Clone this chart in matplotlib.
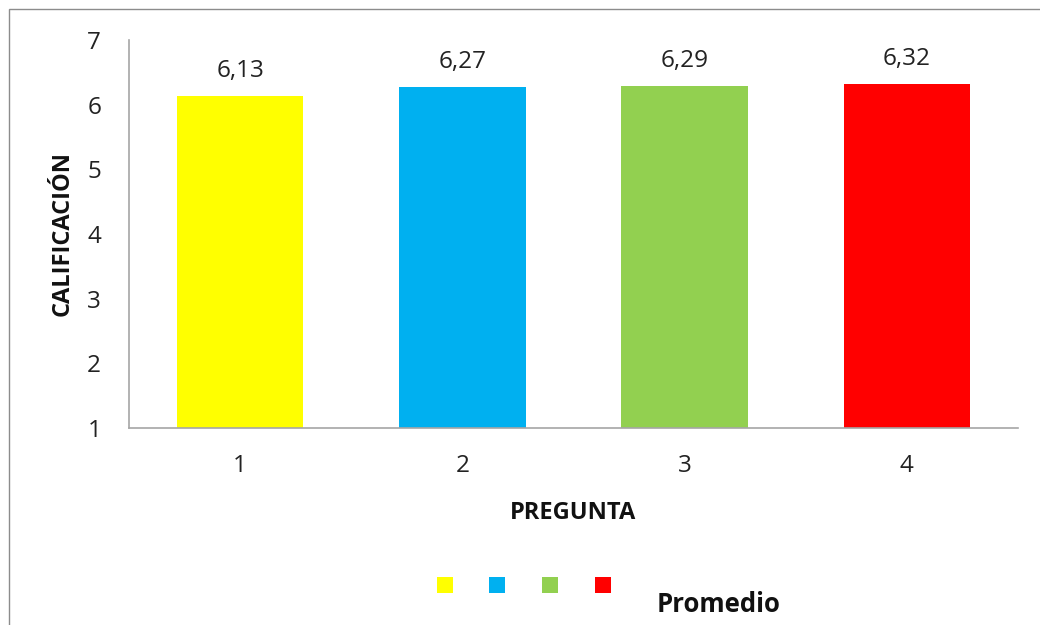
import matplotlib
matplotlib.use("Agg")
import matplotlib.pyplot as plt
from matplotlib.patches import Rectangle

categories = ["1", "2", "3", "4"]
promedio = [6.13, 6.27, 6.29, 6.32]
colors = ["#FFFF00", "#00B0F0", "#92D050", "#FF0000"]
y_ticks = [1, 2, 3, 4, 5, 6, 7]

plt.rcParams["font.family"] = ["Open Sans", "DejaVu Sans"]

fig = plt.figure(figsize=(10.4, 6.25), dpi=100)
fig.patch.set_facecolor("white")

# chart area frame
fig.patches.append(Rectangle((9 / 1040, -0.1), 1.2, 1 - 9 / 625 + 0.1,
                             transform=fig.transFigure, fill=False,
                             edgecolor="#8c8c8c", linewidth=1.0))

ax = fig.add_axes([129 / 1040, 1 - 428 / 625, (1018 - 129) / 1040, (428 - 40) / 625])
x = range(len(categories))
bars = ax.bar(x, [v - 1 for v in promedio], bottom=1, width=0.57, color=colors)
for b, v in zip(bars, promedio):
    ax.text(b.get_x() + b.get_width() / 2, v + 0.2, f"{v:.2f}".replace(".", ","),
            ha="center", va="bottom", fontsize=17.5, color="#222222")

ax.set_xlim(-0.5, len(categories) - 0.5)
ax.set_ylim(1, 7)
ax.set_yticks(y_ticks)
ax.set_xticks(list(x))
ax.set_xticklabels(categories)
ax.tick_params(axis="both", length=0, labelsize=17.5, colors="#222222")
ax.tick_params(axis="y", pad=20)
ax.tick_params(axis="x", pad=19)
for s in ["top", "right"]:
    ax.spines[s].set_visible(False)
for s in ["left", "bottom"]:
    ax.spines[s].set_color("#a6a6a6")
    ax.spines[s].set_linewidth(1.2)

ax.set_xlabel("PREGUNTA", fontsize=17, fontweight="bold", labelpad=16, color="#111111")
ax.set_ylabel("CALIFICACIÓN", fontsize=17, fontweight="bold", labelpad=9, color="#111111")

# legend keys
key_x = [437, 489, 542, 595]
for kx, c in zip(key_x, colors):
    fig.patches.append(Rectangle((kx / 1040, 1 - 593 / 625), 16 / 1040, 16 / 625,
                                 transform=fig.transFigure, facecolor=c, edgecolor="none"))
fig.text(657 / 1040, 1 - 605 / 625, "Promedio", fontsize=18.5, fontweight="bold",
         ha="left", va="center", color="#111111")

fig.savefig("out.png", dpi=100, facecolor="white")
